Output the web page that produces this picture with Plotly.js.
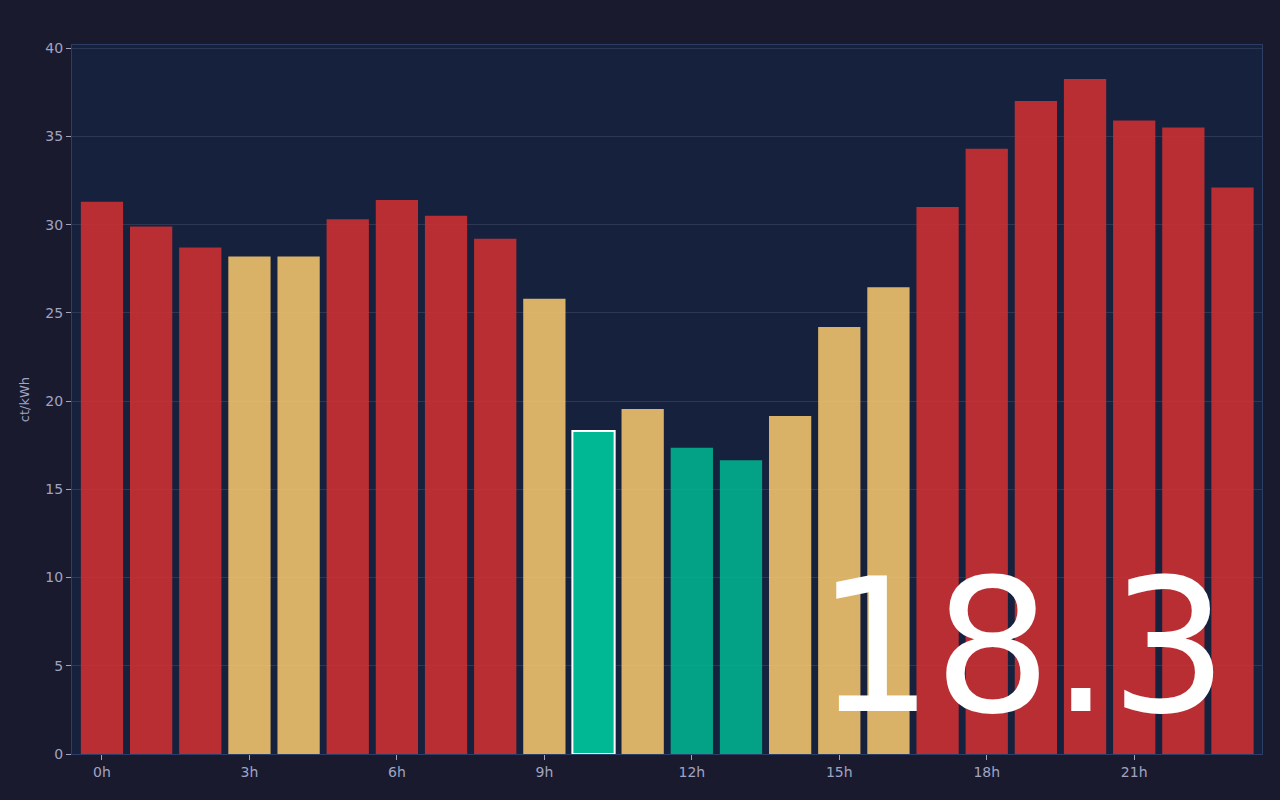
<!DOCTYPE html>
<html>
<head>
<meta charset="utf-8">
<script src="https://cdn.plot.ly/plotly-3.0.1.min.js"></script>
<style>
  html, body { margin: 0; padding: 0; background: #1a1a2e; }
  #chart { width: 1280px; height: 800px; }
</style>
</head>
<body>
<div id="chart"></div>
<script>
// hourly prices in ct/kWh
const hours = [0, 1, 2, 3, 4, 5, 6, 7, 8, 9, 10, 11, 12, 13, 14, 15, 16, 17, 18, 19, 20, 21, 22, 23];
const prices = [31.3, 29.9, 28.7, 28.2, 28.2, 30.3, 31.4, 30.5, 29.2, 25.8, 18.3, 19.55, 17.35, 16.65,
                19.15, 24.2, 26.45, 31.0, 34.3, 37.0, 38.25, 35.9, 35.5, 32.1];
// price band per hour: cheap / mid / expensive
const bands = ['high', 'high', 'high', 'mid', 'mid', 'high', 'high', 'high', 'high', 'mid', 'low', 'mid',
               'low', 'low', 'mid', 'mid', 'mid', 'high', 'high', 'high', 'high', 'high', 'high', 'high'];
const currentHour = 10;
const tickHours = [0, 3, 6, 9, 12, 15, 18, 21];
const tickLabels = ['0h', '3h', '6h', '9h', '12h', '15h', '18h', '21h'];

const bandColors = { low: '#00b894', mid: '#fdcb6e', high: '#d63031' };

const colors = bands.map(b => bandColors[b]);
const opacities = hours.map(h => h === currentHour ? 1 : 0.85);
const lineWidths = hours.map(h => h === currentHour ? 2 : 0);

const trace = {
    type: 'bar',
    x: hours,
    y: prices,
    width: 0.86,
    marker: {
        color: colors,
        opacity: opacities,
        line: { color: '#ffffff', width: lineWidths }
    },
    hoverinfo: 'skip'
};

const tickColor = '#a0a4c2';

const layout = {
    width: 1280,
    height: 800,
    paper_bgcolor: '#1a1a2e',
    plot_bgcolor: '#16213e',
    margin: { l: 72, r: 18, t: 45, b: 46 },
    showlegend: false,
    font: { family: 'DejaVu Sans, sans-serif', color: tickColor, size: 14 },
    xaxis: {
        range: [-0.61, 23.6],
        tickvals: tickHours,
        ticktext: tickLabels,
        ticks: 'outside',
        ticklen: 5,
        tickcolor: tickColor,
        showgrid: false,
        zeroline: false,
        showline: true,
        mirror: true,
        linecolor: '#2c3e66',
        linewidth: 1,
        tickfont: { size: 14, color: tickColor }
    },
    yaxis: {
        range: [0, 40.18],
        dtick: 5,
        ticks: 'outside',
        ticklen: 5,
        tickcolor: tickColor,
        gridcolor: 'rgba(255,255,255,0.1)',
        zeroline: false,
        showline: true,
        mirror: true,
        linecolor: '#2c3e66',
        linewidth: 1,
        tickfont: { size: 14, color: tickColor },
        title: { text: 'ct/kWh', font: { size: 13, color: tickColor }, standoff: 12 }
    },
    annotations: [{
        xref: 'paper', yref: 'paper',
        x: 0.973, y: -0.004,
        xanchor: 'right', yanchor: 'bottom',
        text: prices[currentHour].toFixed(1),
        showarrow: false,
        font: { size: 185, color: '#ffffff', family: 'DejaVu Sans, sans-serif' }
    }]
};

Plotly.newPlot('chart', [trace], layout, { staticPlot: true, displayModeBar: false });
</script>
</body>
</html>
